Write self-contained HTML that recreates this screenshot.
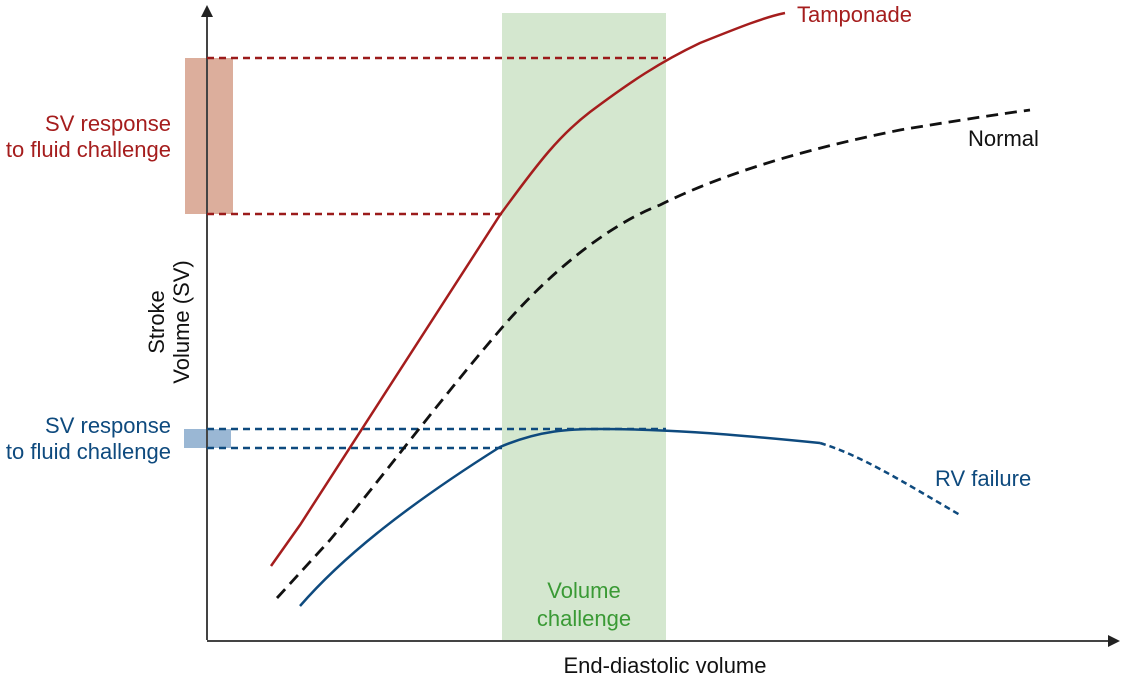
<!DOCTYPE html>
<html><head><style>body{margin:0;background:#fff}svg{display:block}text{font-family:"Liberation Sans",sans-serif;font-size:22px}</style></head>
<body>
<svg width="1126" height="682" viewBox="0 0 1126 682">
<rect x="502" y="13" width="164" height="627" fill="#d4e7cf"/>
<rect x="185" y="58" width="48" height="156" fill="#dcae9c"/>
<rect x="184" y="429" width="47" height="19" fill="#9ab7d4"/>
<line x1="207" y1="640" x2="207" y2="14" stroke="#444" stroke-width="2"/>
<polygon points="201,17 213,17 207,5" fill="#222"/>
<line x1="207" y1="641" x2="1110" y2="641" stroke="#444" stroke-width="2"/>
<polygon points="1108,635 1108,647 1120,641" fill="#222"/>
<g stroke-dasharray="7,5" stroke-width="2.5" fill="none">
<line x1="207" y1="58" x2="666" y2="58" stroke="#9b1b1b"/>
<line x1="207" y1="214" x2="502" y2="214" stroke="#9b1b1b"/>
<line x1="207" y1="429" x2="666" y2="429" stroke="#0e4a7e"/>
<line x1="207" y1="448" x2="502" y2="448" stroke="#0e4a7e"/>
</g>
<path d="M271,566 L300,525 C400,370 470,260 500,215 C540,160 560,135 590,112 C630,82 660,62 700,43 C740,27 765,17 785,13" stroke="#a51d1d" stroke-width="2.5" fill="none"/>
<path d="M277,598 L330,540 C380,480 440,400 500,330 C560,260 620,220 660,205 C720,175 800,150 900,130 C960,120 1000,114 1030,110" stroke="#111" stroke-width="2.8" stroke-dasharray="12,7" fill="none"/>
<path d="M300,606 C340,560 400,510 500,447 C540,430 570,429 600,429 C660,429 720,433 820,443" stroke="#0e4a7e" stroke-width="2.5" fill="none"/>
<path d="M820,443 C860,455 900,480 960,515" stroke="#0e4a7e" stroke-width="2.5" stroke-dasharray="6,4" fill="none"/>
<text x="797" y="22" fill="#a51d1d">Tamponade</text>
<text x="968" y="146" fill="#111">Normal</text>
<text x="935" y="486" fill="#0e4a7e">RV failure</text>
<text x="171" y="131" fill="#a51d1d" text-anchor="end">SV response</text>
<text x="171" y="157" fill="#a51d1d" text-anchor="end">to fluid challenge</text>
<text x="171" y="433" fill="#0e4a7e" text-anchor="end">SV response</text>
<text x="171" y="459" fill="#0e4a7e" text-anchor="end">to fluid challenge</text>
<text x="584" y="598" fill="#3a9a35" text-anchor="middle">Volume</text>
<text x="584" y="626" fill="#3a9a35" text-anchor="middle">challenge</text>
<text x="665" y="673" fill="#111" text-anchor="middle">End-diastolic volume</text>
<g transform="translate(164,322) rotate(-90)"><text x="0" y="0" text-anchor="middle" fill="#111">Stroke</text><text x="0" y="25" text-anchor="middle" fill="#111">Volume (SV)</text></g>
</svg>
</body></html>
